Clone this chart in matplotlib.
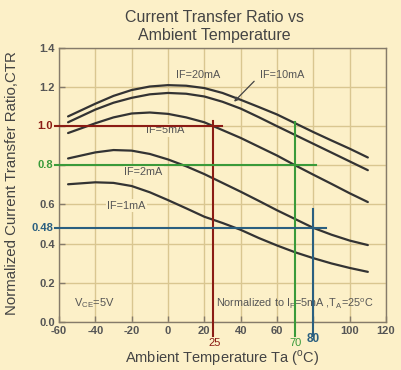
import numpy as np
import matplotlib
matplotlib.use("Agg")
import matplotlib.pyplot as plt

plt.rcParams['font.family'] = ['Liberation Sans', 'DejaVu Sans']

# --- data ---
t_20 = [-55, -40, -30, -20, -10, 0, 10, 20, 30, 40, 50, 60, 70, 80, 90, 100, 110]
ctr_20 = [1.05, 1.115, 1.155, 1.185, 1.203, 1.21, 1.207, 1.195, 1.17, 1.135, 1.098, 1.06, 1.015, 0.97, 0.927, 0.885, 0.84]
ctr_10 = [1.02, 1.085, 1.12, 1.145, 1.163, 1.17, 1.166, 1.152, 1.125, 1.09, 1.046, 1.0, 0.955, 0.91, 0.865, 0.82, 0.775]

t_5 = [-55, -40, -30, -20, -10, 0, 10, 20, 25, 30, 40, 50, 60, 70, 80, 90, 100, 110]
ctr_5 = [0.965, 1.015, 1.045, 1.065, 1.07, 1.063, 1.045, 1.02, 1.0, 0.98, 0.94, 0.895, 0.85, 0.80, 0.752, 0.705, 0.657, 0.612]

t_low = [-55, -40, -30, -20, -10, 0, 10, 20, 30, 40, 50, 60, 70, 80, 90, 100, 110]
ctr_2 = [0.835, 0.866, 0.878, 0.875, 0.858, 0.83, 0.795, 0.755, 0.71, 0.665, 0.618, 0.57, 0.525, 0.48, 0.445, 0.415, 0.392]
ctr_1 = [0.703, 0.713, 0.71, 0.694, 0.662, 0.622, 0.58, 0.537, 0.505, 0.47, 0.428, 0.39, 0.355, 0.325, 0.298, 0.275, 0.255]

x_ticks = [-60, -40, -20, 0, 20, 40, 60, 80, 100, 120]
y_ticks = [0.0, 0.2, 0.4, 0.6, 0.8, 1.0, 1.2, 1.4]

# crosshair read-outs: temperature, ctr, colour, how far the lines reach
mark_t = [25, 70, 80]
mark_ctr = [1.0, 0.8, 0.48]
mark_lbl = ['1.0', '0.8', '0.48']
mark_col = ['#8b1c14', '#3a9a3a', '#2a5f80']
mark_hend = [29.5, 81.5, 87]      # right end of horizontal line
mark_vtop = [1.025, 1.02, 0.576]  # top of vertical line

bg = '#fcf0c8'
ink = '#333333'
grey = '#555555'

fig = plt.figure(figsize=(4.01, 3.70), dpi=100, facecolor=bg)
ax = fig.add_axes([0.1471, 0.1305, 0.8155, 0.7398], facecolor=bg)

ax.set_xlim(-60, 120)
ax.set_ylim(0, 1.4)
ax.set_xticks(x_ticks)
ax.set_xticklabels(['' if v in mark_t else str(v) for v in x_ticks])
ax.set_yticks(y_ticks)
ax.set_yticklabels(['' if v in mark_ctr else f"{v:.1f}" for v in y_ticks])
ax.grid(True, color='#d9c690', linewidth=1.0)
ax.set_axisbelow(True)
for s in ax.spines.values():
    s.set_color('#857b6a')
    s.set_linewidth(1.0)
ax.tick_params(direction='in', length=4, width=1, color='#857b6a',
               labelsize=8, labelcolor=grey, pad=3)
for lab in ax.get_xticklabels() + ax.get_yticklabels():
    lab.set_fontweight('bold')

# curves
for x, y in [(t_20, ctr_20), (t_20, ctr_10), (t_5, ctr_5), (t_low, ctr_2), (t_low, ctr_1)]:
    ax.plot(x, y, color=ink, linewidth=1.6, solid_capstyle='round', zorder=3)

# curve labels
lbl = dict(fontsize=7.8, color=grey, ha='center', va='center', zorder=4)
box = dict(facecolor=bg, edgecolor='none', pad=1.0)
ax.text(16.5, 1.26, 'IF=20mA', **lbl)
ax.text(63, 1.26, 'IF=10mA', **lbl)
ax.text(-1.5, 0.978, 'IF=5mA', bbox=box, **lbl)
ax.text(-13.5, 0.765, 'IF=2mA', bbox=box, **lbl)
ax.text(-23, 0.593, 'IF=1mA', bbox=box, **lbl)
ax.annotate('', xy=(35.3, 1.115), xytext=(48.5, 1.24),
            arrowprops=dict(arrowstyle='-|>', color='#444444', lw=0.9,
                            mutation_scale=6), zorder=4)

ax.text(-40.5, 0.094, r'V$_{\mathregular{CE}}$=5V', fontsize=8, color=grey,
        ha='center', va='center')
ax.text(69.5, 0.094, r'Normalized to I$_{\mathregular{F}}$=5mA ,T$_{\mathregular{A}}$=25$^{\mathregular{o}}$C',
        fontsize=7.8, color=grey, ha='center', va='center')

# crosshairs
for t, c, lab, col, hend, vtop in zip(mark_t, mark_ctr, mark_lbl, mark_col, mark_hend, mark_vtop):
    ax.plot([-62.3, hend], [c, c], color=col, lw=1.5, clip_on=False, zorder=5)
    ax.plot([t, t], [vtop, -0.075], color=col, lw=1.5, clip_on=False, zorder=5)
    ax.text(-63.3, c, lab, color=col, fontsize=8, fontweight='bold',
            ha='right', va='center', clip_on=False)
ax.text(25.5, -0.108, '25', color=mark_col[0], fontsize=8, ha='center', va='center')
ax.text(70, -0.108, '70', color=mark_col[1], fontsize=8, ha='center', va='center')
ax.text(80, -0.09, '80', color=mark_col[2], fontsize=8.5, fontweight='bold',
        ha='center', va='center')

ax.set_xlabel(r'Ambient Temperature Ta ($^{\mathregular{o}}$C)', fontsize=10.5,
              color='#444444', labelpad=9)
ax.set_ylabel('Normalized Current Transfer Ratio,CTR', fontsize=10.8,
              color='#444444', va='center')
ax.yaxis.set_label_coords(-0.145, 0.505)
fig.text(0.534, 0.928, 'Current Transfer Ratio vs\nAmbient Temperature',
         ha='center', va='center', fontsize=11.5, color='#444444', linespacing=1.3)

fig.savefig('out.png', dpi=100, facecolor=bg)
